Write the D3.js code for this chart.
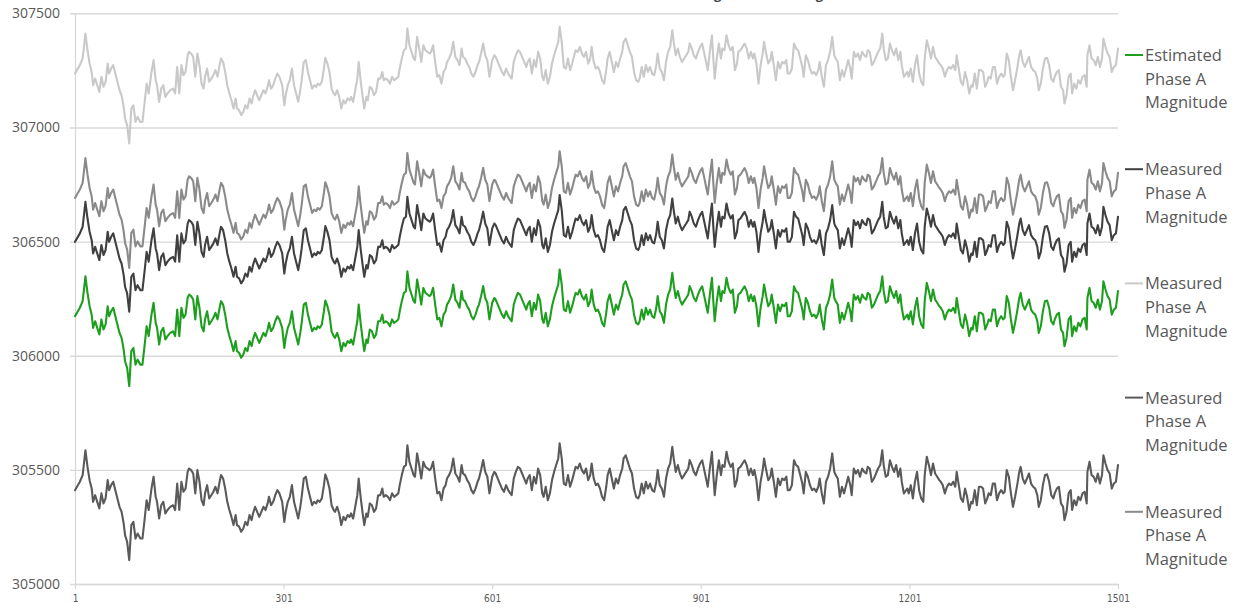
<!DOCTYPE html>
<html>
<head>
<meta charset="utf-8">
<script src="https://cdn.jsdelivr.net/npm/d3@7"></script>
<style>
  html, body { margin: 0; padding: 0; background: #ffffff; }
  svg { display: block; }
</style>
</head>
<body>
<svg id="chart" width="1238" height="609"></svg>
<script>
// Recorded magnitude trace: [sample number, magnitude]
const baseTrace = [
  [1,305411],[8,305448],[12,305477],[16,305586],[19,305513],[22,305455],[25,305418],[27,305360],[30,305389],[33,305360],
  [36,305331],[39,305397],[42,305353],[45,305375],[48,305455],[50,305411],[53,305433],[56,305448],[59,305411],[62,305375],
  [65,305338],[68,305316],[71,305265],[73,305214],[76,305185],[79,305105],[82,305258],[85,305272],[88,305199],[91,305221],
  [95,305199],[98,305199],[101,305280],[104,305367],[107,305324],[111,305418],[114,305470],[117,305382],[119,305360],[122,305287],
  [125,305345],[128,305360],[131,305309],[134,305324],[138,305338],[142,305345],[145,305324],[148,305440],[151,305324],[154,305448],
  [157,305404],[160,305418],[163,305491],[165,305506],[168,305499],[171,305484],[174,305397],[177,305499],[180,305448],[183,305367],
  [186,305345],[188,305397],[191,305433],[194,305375],[197,305389],[200,305404],[203,305426],[206,305397],[209,305448],[211,305477],
  [214,305462],[217,305418],[220,305360],[223,305324],[226,305294],[229,305258],[232,305302],[234,305258],[237,305251],[240,305229],
  [243,305243],[246,305272],[249,305258],[252,305302],[255,305280],[257,305309],[260,305338],[263,305316],[266,305294],[269,305316],
  [272,305338],[275,305324],[278,305353],[280,305382],[283,305345],[286,305360],[289,305389],[292,305411],[295,305397],
  [299,305360],[302,305272],[304,305316],[307,305360],[310,305382],[313,305433],[316,305360],[319,305324],[322,305287],[325,305338],
  [327,305382],[330,305462],[333,305470],[336,305418],[339,305382],[342,305345],[345,305360],[348,305353],[350,305367],[353,305360],
  [356,305375],[359,305433],[361,305480],[364,305455],[367,305418],[370,305345],[373,305324],[375,305316],[378,305338],[381,305309],
  [384,305258],[387,305294],[390,305280],[393,305302],[396,305294],[398,305309],[401,305287],[404,305338],[407,305389],[409,305462],
  [412,305375],[415,305302],[417,305258],[420,305309],[422,305294],[425,305353],[428,305345],[431,305316],[434,305331],[437,305389],
  [440,305389],[443,305418],[445,305382],[448,305389],[451,305382],[454,305367],[457,305397],[460,305382],[463,305389],[466,305397],
  [468,305433],[471,305477],[474,305513],[477,305521],[479,305608],[482,305535],[485,305506],[488,305477],[490,305470],[493,305572],
  [496,305521],[499,305462],[502,305535],[505,305513],[508,305506],[511,305499],[513,305506],[516,305535],[519,305462],[522,305397],
  [525,305404],[528,305367],[531,305418],[534,305433],[536,305462],[539,305477],[542,305499],[545,305550],[548,305484],[551,305470],
  [554,305448],[557,305521],[559,305484],[562,305477],[565,305455],[568,305440],[571,305411],[574,305397],[577,305418],[580,305448],
  [582,305462],[585,305499],[588,305543],[591,305491],[594,305470],[597,305397],
  [601,305470],[604,305491],[606,305484],[609,305462],[612,305440],[615,305418],[618,305404],[621,305433],[624,305411],[627,305397],
  [629,305389],[632,305462],[635,305491],[638,305513],[641,305506],[644,305484],[647,305462],[650,305440],[652,305462],[655,305477],
  [658,305411],[661,305470],[664,305440],[667,305506],[670,305477],[673,305397],[675,305382],[678,305426],[681,305367],[684,305397],
  [687,305455],[690,305491],[693,305521],[696,305550],[698,305616],[701,305550],[704,305440],[707,305433],[710,305477],[713,305426],
  [716,305455],[719,305491],[721,305513],[724,305506],[727,305528],[730,305499],[733,305484],[736,305506],[739,305455],[742,305477],
  [744,305528],[747,305462],[750,305433],[753,305440],[756,305418],[759,305382],[762,305367],[765,305426],[767,305477],[770,305506],
  [773,305462],[776,305418],[779,305462],[782,305440],[785,305477],[788,305506],[790,305550],[793,305564],[796,305535],[799,305506],
  [802,305484],[805,305418],[808,305382],[811,305375],[813,305389],[816,305440],[819,305397],[822,305448],[825,305418],[828,305440],
  [831,305411],[834,305404],[837,305448],[839,305499],[842,305433],[845,305418],[848,305382],[851,305462],[854,305506],[857,305528],
  [860,305601],[862,305550],[865,305491],[868,305521],[871,305484],[874,305462],[877,305477],[880,305491],[883,305506],[885,305543],
  [888,305521],[891,305491],[894,305477],[897,305506],[900,305528],
  [903,305542],[906,305499],[909,305455],[911,305426],[914,305506],[917,305579],[919,305477],[921,305389],[924,305477],[927,305542],
  [930,305477],[932,305521],[935,305513],[938,305579],[941,305535],[944,305513],[947,305528],[950,305426],[953,305455],[955,305506],
  [958,305513],[961,305528],[964,305542],[967,305521],[970,305477],[973,305506],[976,305477],[978,305499],[981,305455],[984,305367],
  [987,305448],[990,305499],[992,305550],[995,305499],[998,305455],[1001,305470],[1003,305506],[1006,305448],[1009,305382],[1012,305462],
  [1015,305433],[1018,305462],[1021,305455],[1024,305470],[1026,305411],[1029,305411],[1032,305433],[1035,305542],[1038,305521],[1041,305513],
  [1044,305477],[1047,305440],[1049,305397],[1052,305491],[1055,305470],[1058,305433],[1061,305411],[1064,305418],[1067,305404],[1070,305426],
  [1072,305462],[1075,305397],[1078,305353],[1081,305448],[1084,305470],[1087,305506],[1090,305572],[1093,305491],[1095,305477],[1098,305462],
  [1101,305382],[1104,305426],[1107,305397],[1110,305433],[1113,305470],[1116,305433],[1118,305389],[1121,305506],[1124,305484],[1127,305499],
  [1130,305470],[1133,305506],[1136,305491],[1139,305484],[1141,305513],[1144,305506],[1147,305448],[1150,305462],[1153,305484],[1156,305506],
  [1159,305521],[1162,305586],[1164,305521],[1167,305470],[1170,305477],[1173,305542],[1176,305513],[1179,305491],[1182,305521],[1185,305470],
  [1188,305506],[1190,305448],[1193,305397],
  [1198,305418],[1200,305397],[1203,305433],[1206,305375],[1209,305448],[1212,305491],[1215,305411],[1218,305375],[1221,305360],[1223,305477],
  [1226,305557],[1229,305521],[1232,305477],[1235,305528],[1238,305484],[1241,305470],[1244,305455],[1246,305448],[1249,305433],[1252,305397],
  [1255,305426],[1258,305440],[1261,305433],[1264,305448],[1267,305426],[1269,305491],[1272,305433],[1275,305375],[1278,305360],[1281,305418],
  [1284,305382],[1287,305324],[1290,305360],[1292,305353],[1295,305411],[1298,305345],[1301,305426],[1304,305426],[1307,305418],[1310,305353],
  [1313,305375],[1315,305397],[1318,305389],[1321,305440],[1324,305440],[1327,305367],[1330,305397],[1333,305411],[1336,305397],[1338,305404],
  [1341,305499],[1344,305470],[1347,305397],[1350,305338],[1353,305382],[1356,305433],[1359,305491],[1361,305513],[1364,305462],[1367,305440],
  [1370,305462],[1373,305484],[1376,305440],[1379,305426],[1382,305418],[1385,305389],[1387,305338],[1390,305367],[1393,305433],[1396,305477],
  [1399,305480],[1402,305448],[1405,305389],[1408,305375],[1410,305397],[1413,305418],[1416,305426],[1419,305353],[1422,305338],[1424,305280],
  [1427,305316],[1430,305397],[1433,305411],[1435,305324],[1438,305367],[1441,305345],[1444,305382],[1447,305367],[1450,305397],[1453,305404],
  [1456,305353],[1457,305491],[1460,305535],[1463,305477],[1466,305470],[1469,305448],[1472,305484],[1475,305440],[1478,305477],[1480,305564],
  [1483,305528],[1486,305499],[1489,305484],[1492,305418],[1495,305440],[1498,305448],[1501,305521]
];

// Series labels and the level each one sits above the recorded trace
const seriesNames = [
  "Estimated Phase A Magnitude",
  "Measured Phase A Magnitude",
  "Measured Phase A Magnitude",
  "Measured Phase A Magnitude",
  "Measured Phase A Magnitude"
];
const seriesLevels = [762, 1088, 1825, 0, 1280];
const seriesColors = ["#1e9e1e", "#404040", "#c9c9c9", "#5a5a5a", "#8a8a8a"];

const xTickValues = [1, 301, 601, 901, 1201, 1501];
const yTickValues = [305000, 305500, 306000, 306500, 307000, 307500];
const chartTitle = "Phase A Magnitude Tracking";

const W = 1238, H = 609;
const plot = { left: 75, right: 1118, top: 13.3, bottom: 584 };
const plotW = plot.right - plot.left;

const svg = d3.select("#chart");
svg.append("rect").attr("width", W).attr("height", H).attr("fill", "#ffffff");

const x = d3.scaleLinear().domain([1, 1501]).range([plot.left, plot.right]);
const y = d3.scaleLinear().domain([305000, 307500]).range([plot.bottom, plot.top]);

const labelFont = "'Open Sans', 'Segoe UI', 'Noto Sans', sans-serif";
const textColor = "#595959";
const gridColor = "#d9d9d9";

// Title (sits mostly above the top edge of the page)
const title = svg.append("text")
  .attr("y", -1)
  .attr("font-family", labelFont)
  .attr("font-size", 13)
  .attr("font-weight", 700)
  .attr("fill", "#404040")
  .text(chartTitle);
const gIdx = chartTitle.indexOf("g");
const gPos = title.node().getStartPositionOfChar(gIdx).x;
title.attr("x", 714 - gPos);

// Horizontal gridlines and value labels
const yAxis = svg.append("g")
  .attr("transform", `translate(${plot.left},0)`)
  .call(d3.axisLeft(y).tickValues(yTickValues).tickSizeInner(-plotW).tickSizeOuter(0).tickPadding(15)
    .tickFormat(d3.format("d")));
yAxis.select(".domain").attr("stroke", gridColor).attr("stroke-width", 1.3);
yAxis.selectAll(".tick line").attr("x1", -5).attr("x2", plotW)
  .attr("stroke", gridColor).attr("stroke-width", 1.4);
yAxis.selectAll(".tick text")
  .attr("font-family", labelFont).attr("font-size", 14).attr("fill", textColor);

// Sample-number axis
const xAxis = svg.append("g")
  .attr("transform", `translate(0,${plot.bottom})`)
  .call(d3.axisBottom(x).tickValues(xTickValues).tickSizeInner(5).tickSizeOuter(0).tickPadding(6)
    .tickFormat(d3.format("d")));
xAxis.select(".domain").attr("stroke", gridColor).attr("stroke-width", 1.4);
xAxis.selectAll(".tick line").attr("stroke", gridColor).attr("stroke-width", 1.2);
xAxis.selectAll(".tick text")
  .attr("font-family", "'Liberation Sans Narrow', 'DejaVu Sans Condensed', sans-serif")
  .attr("font-size", 10).attr("fill", textColor);

// Series lines
const line = d3.line()
  .x(d => x(d[0]))
  .y(d => y(d[1]));

const series = seriesNames.map((name, i) => ({
  name,
  color: seriesColors[i],
  values: baseTrace.map(d => [d[0], d[1] + seriesLevels[i]])
}));

const drawOrder = [2, 4, 1, 0, 3];
svg.append("g").selectAll("path")
  .data(drawOrder.map(i => series[i]))
  .join("path")
  .attr("d", d => line(d.values))
  .attr("fill", "none")
  .attr("stroke", d => d.color)
  .attr("stroke-width", 2.1)
  .attr("stroke-linejoin", "round")
  .attr("stroke-linecap", "round");

// Legend
const legend = svg.append("g");
series.forEach((s, i) => {
  const y0 = 55 + i * 114.2;
  const g = legend.append("g").attr("transform", `translate(1125,${y0})`);
  g.append("line").attr("x1", 0).attr("x2", 18).attr("y1", 0).attr("y2", 0)
    .attr("stroke", s.color).attr("stroke-width", 2);
  const words = s.name.split(" ");
  const lines = [words[0], words[1] + " " + words[2], words[3]];
  lines.forEach((t, k) => {
    g.append("text")
      .attr("x", 20)
      .attr("y", 6 + k * 23.7)
      .attr("font-family", labelFont)
      .attr("font-size", 16.5)
      .attr("fill", textColor)
      .text(t);
  });
});
</script>
</body>
</html>
